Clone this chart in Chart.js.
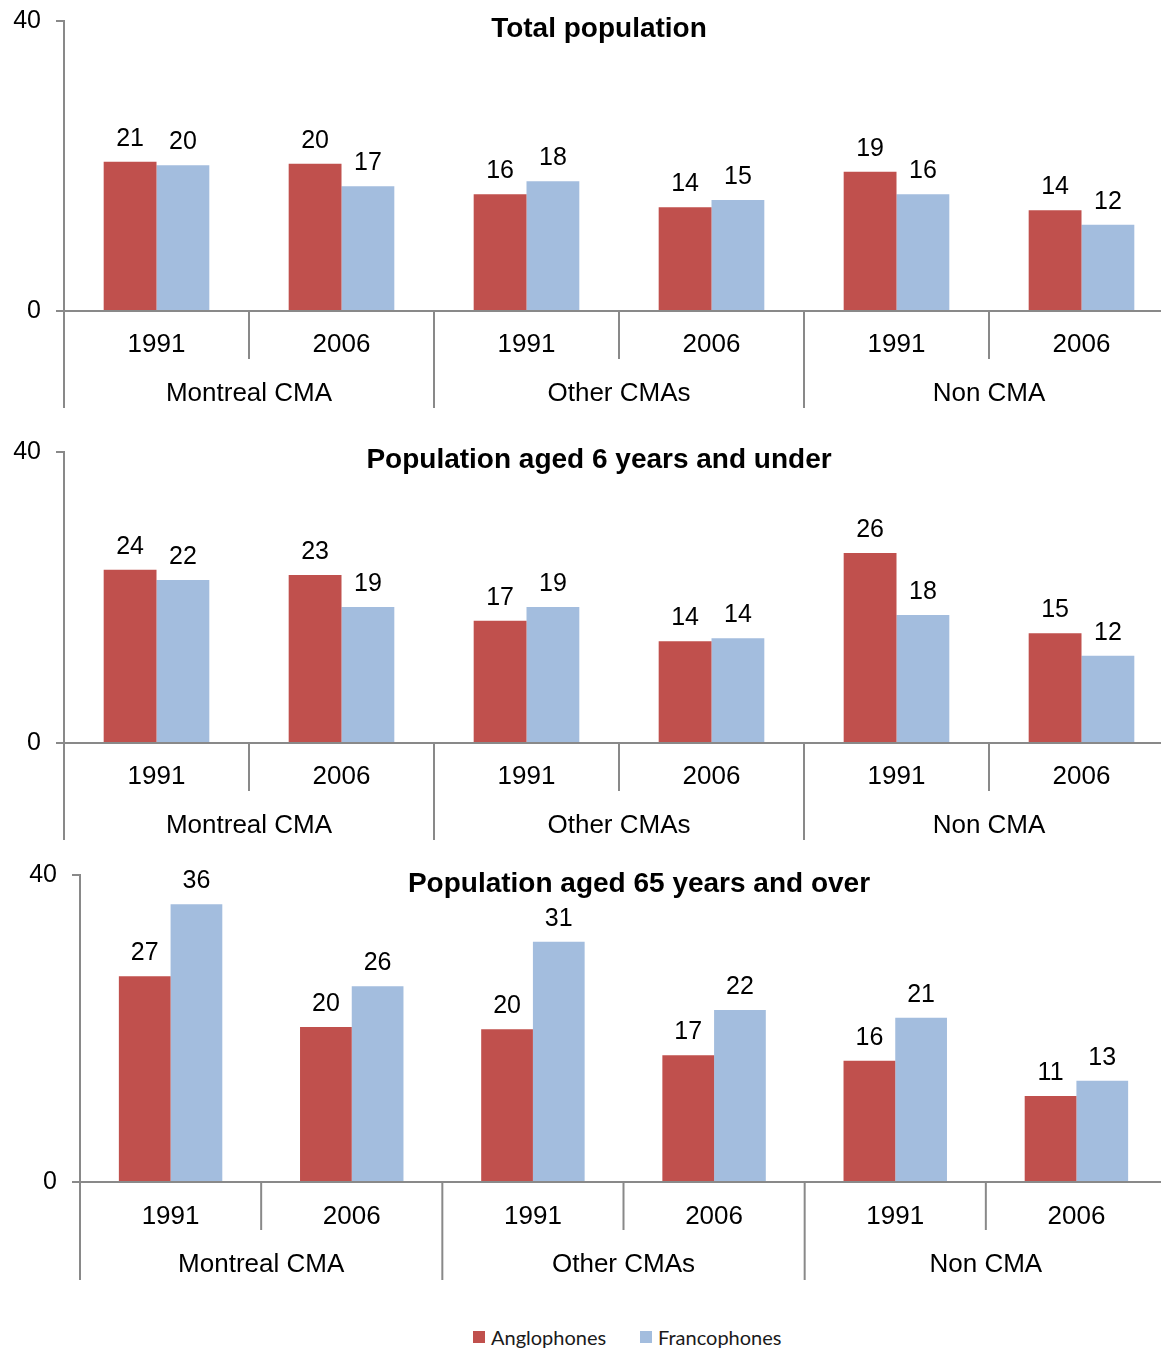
<!DOCTYPE html>
<html>
<head>
<meta charset="utf-8">
<script src="https://cdn.jsdelivr.net/npm/chart.js@4.4.0/dist/chart.umd.min.js"></script>
<style>
  html, body { margin: 0; padding: 0; background: #fff; overflow: hidden; width: 1161px; height: 1348px; }
  canvas { position: absolute; left: 0; }
  #legend { position: absolute; top: 1324px; left: 473px; height: 26px; font: 20px Lato, "Open Sans", sans-serif; color: #1a1a1a; white-space: nowrap; }
  .item { position: absolute; top: 0; line-height: 26px; }
  .sw { position: absolute; top: 7px; left: 0; width: 12px; height: 12px; }
  .tx { position: absolute; left: 18px; top: 0; }
</style>
</head>
<body>
<canvas id="c1" width="1175" height="420" style="top:0px"></canvas>
<canvas id="c2" width="1175" height="420" style="top:430px"></canvas>
<canvas id="c3" width="1168" height="440" style="top:850px"></canvas>
<div id="legend"></div>
<script>
// ---- data ----
const categories = ['1991', '2006', '1991', '2006', '1991', '2006'];
const groups = ['Montreal CMA', 'Other CMAs', 'Non CMA'];
const seriesNames = ['Anglophones', 'Francophones'];
const yTicks = [0, 40];

const titles = ['Total population', 'Population aged 6 years and under', 'Population aged 65 years and over'];

const totalAnglo = [20.6, 20.3, 16.1, 14.3, 19.2, 13.9];
const totalFranco = [20.1, 17.2, 17.9, 15.3, 16.1, 11.9];
const totalAngloLabels = [21, 20, 16, 14, 19, 14];
const totalFrancoLabels = [20, 17, 18, 15, 16, 12];

const youngAnglo = [23.8, 23.1, 16.8, 14.0, 26.1, 15.1];
const youngFranco = [22.4, 18.7, 18.7, 14.4, 17.6, 12.0];
const youngAngloLabels = [24, 23, 17, 14, 26, 15];
const youngFrancoLabels = [22, 19, 19, 14, 18, 12];

const seniorAnglo = [26.8, 20.2, 19.9, 16.5, 15.8, 11.2];
const seniorFranco = [36.2, 25.5, 31.3, 22.4, 21.4, 13.2];
const seniorAngloLabels = [27, 20, 20, 17, 16, 11];
const seniorFrancoLabels = [36, 26, 31, 22, 21, 13];

// ---- styles ----
const RED = '#C0504D';
const BLUE = '#A3BDDE';
const AXIS = '#898989';
const FONT = '"Liberation Sans", Arial, sans-serif';

const decoPlugin = {
  id: 'deco',
  afterDatasetsDraw(chart, args, opts) {
    const ctx = chart.ctx;
    const x = chart.scales.x;
    const y = chart.scales.y;
    const y0 = y.getPixelForValue(0);
    ctx.save();
    // data labels
    ctx.font = '25px ' + FONT;
    ctx.fillStyle = '#000';
    ctx.textAlign = 'center';
    ctx.textBaseline = 'alphabetic';
    chart.data.datasets.forEach((ds, di) => {
      const meta = chart.getDatasetMeta(di);
      meta.data.forEach((el, i) => {
        ctx.fillText(String(ds.valueLabels[i]), el.x, el.y - 16);
      });
    });
    // axis lines
    ctx.strokeStyle = AXIS;
    ctx.lineWidth = 2;
    ctx.beginPath();
    ctx.moveTo(x.left, y0);
    ctx.lineTo(x.right, y0);
    ctx.stroke();
    const n = categories.length;
    const step = (x.right - x.left) / n;
    for (let k = 0; k < n; k++) {
      const bx = x.left + k * step;
      const len = (k % 2 === 0) ? opts.longLen : opts.shortLen;
      ctx.beginPath();
      ctx.moveTo(bx, y0);
      ctx.lineTo(bx, y0 + len);
      ctx.stroke();
    }
    // category labels
    ctx.font = '26px ' + FONT;
    ctx.fillStyle = '#000';
    ctx.textBaseline = 'middle';
    categories.forEach((c, i) => {
      ctx.fillText(c, x.getPixelForValue(i), y0 + opts.yearOff);
    });
    groups.forEach((g, gi) => {
      const cx = x.left + (2 * gi + 1) * step;
      ctx.fillText(g, cx, y0 + opts.groupOff);
    });
    // title
    ctx.font = 'bold 28px ' + FONT;
    ctx.fillText(opts.title, opts.titleX, opts.titleY);
    ctx.restore();
  }
};

function makeChart(id, angl, fran, anglLab, franLab, cfg) {
  return new Chart(document.getElementById(id), {
    type: 'bar',
    data: {
      labels: categories,
      datasets: [
        { label: seriesNames[0], data: angl, valueLabels: anglLab, backgroundColor: RED, borderWidth: 0,
          categoryPercentage: 0.571, barPercentage: 1.0 },
        { label: seriesNames[1], data: fran, valueLabels: franLab, backgroundColor: BLUE, borderWidth: 0,
          categoryPercentage: 0.571, barPercentage: 1.0 }
      ]
    },
    options: {
      responsive: false,
      animation: false,
      devicePixelRatio: 1,
      layout: { padding: { top: cfg.padTop, bottom: cfg.padBottom, left: 0, right: 1 } },
      plugins: {
        legend: { display: false },
        tooltip: { enabled: false },
        deco: cfg.deco
      },
      scales: {
        x: { display: false },
        y: {
          min: 0, max: 40,
          afterBuildTicks: (s) => { s.ticks = yTicks.map(v => ({ value: v })); },
          afterFit: (s) => { s.width = cfg.axisW; },
          ticks: { font: { family: FONT, size: 25, lineHeight: 0.4 }, color: '#000', padding: 15 },
          grid: { drawOnChartArea: false, drawTicks: true, tickLength: 8, color: AXIS, lineWidth: 2 },
          border: { color: AXIS, width: 2 }
        }
      }
    },
    plugins: [decoPlugin]
  });
}

makeChart('c1', totalAnglo, totalFranco, totalAngloLabels, totalFrancoLabels, {
  padTop: 21, padBottom: 109, axisW: 64,
  deco: { title: titles[0], titleX: 599, titleY: 29, longLen: 97, shortLen: 48, yearOff: 34, groupOff: 83 }
});
makeChart('c2', youngAnglo, youngFranco, youngAngloLabels, youngFrancoLabels, {
  padTop: 22, padBottom: 107, axisW: 64,
  deco: { title: titles[1], titleX: 599, titleY: 30, longLen: 97, shortLen: 48, yearOff: 34, groupOff: 83 }
});
makeChart('c3', seniorAnglo, seniorFranco, seniorAngloLabels, seniorFrancoLabels, {
  padTop: 25, padBottom: 108, axisW: 80,
  deco: { title: titles[2], titleX: 639, titleY: 34, longLen: 98, shortLen: 48, yearOff: 35, groupOff: 83 }
});

// legend
const legend = document.getElementById('legend');
const legendX = [0, 167];
[RED, BLUE].forEach((col, i) => {
  const it = document.createElement('div');
  it.className = 'item';
  it.style.left = legendX[i] + 'px';
  const sw = document.createElement('div');
  sw.className = 'sw';
  sw.style.background = col;
  const tx = document.createElement('span');
  tx.className = 'tx';
  tx.textContent = seriesNames[i];
  it.appendChild(sw); it.appendChild(tx);
  legend.appendChild(it);
});
</script>
</body>
</html>
